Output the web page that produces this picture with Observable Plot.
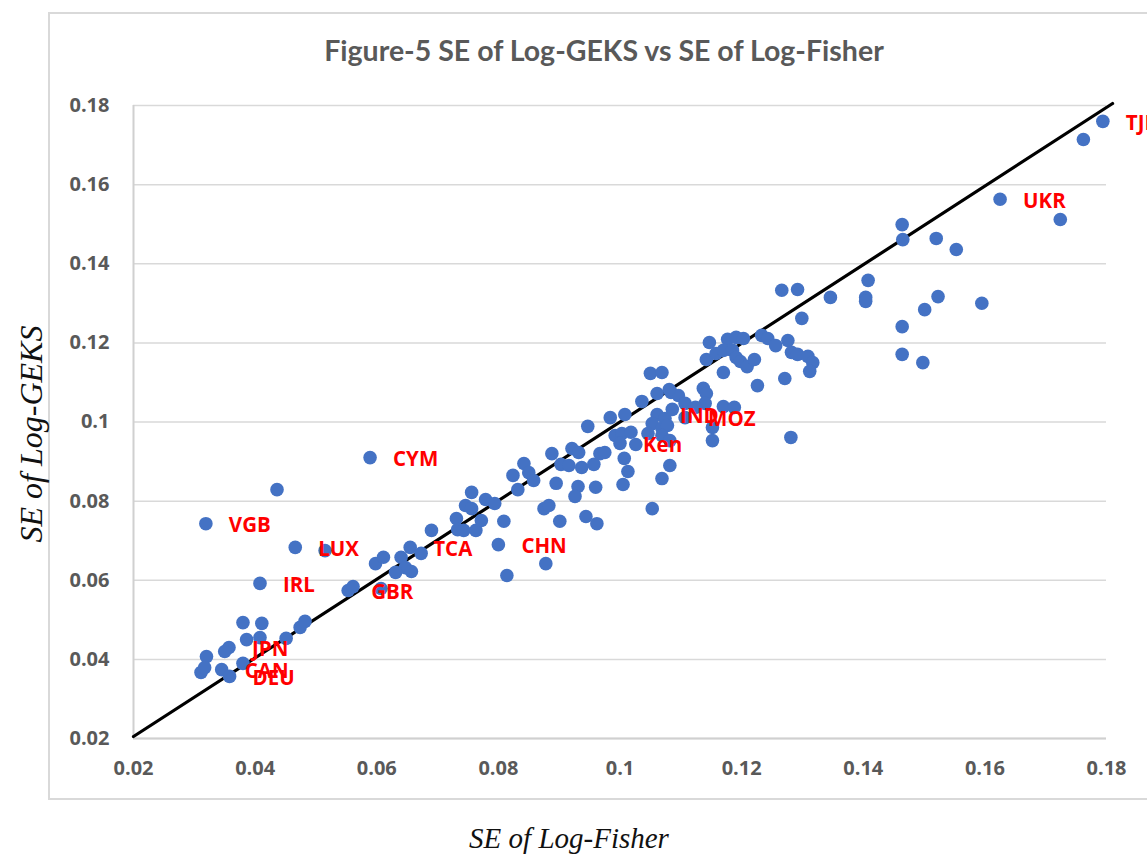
<!DOCTYPE html>
<html>
<head>
<meta charset="utf-8">
<script src="https://cdn.jsdelivr.net/npm/d3@7"></script>
<script src="https://cdn.jsdelivr.net/npm/@observablehq/plot@0.6"></script>
<style>
  html, body { margin: 0; padding: 0; background: #fff; }
  #wrap { position: relative; width: 1147px; height: 854px; overflow: hidden; }
  #frame { position: absolute; left: 48px; top: 12px; width: 1120px; height: 788px; border: 2px solid #d9d9d9; box-sizing: border-box; }
  #chart { position: absolute; left: 0; top: 0; }
  #title { position: absolute; left: 0; width: 1208px; top: 33px; text-align: center; font-family: Lato, "Open Sans", sans-serif; font-weight: bold; font-size: 28.5px; color: #595959; white-space: nowrap; }
  #ylab { position: absolute; left: 31px; top: 434px; transform: translate(-50%, -50%) rotate(-90deg); font-family: "Liberation Serif", serif; font-style: italic; font-size: 32px; color: #111; white-space: nowrap; }
  #xlab { position: absolute; left: 569px; top: 838px; transform: translate(-50%, -50%); font-family: "Liberation Serif", serif; font-style: italic; font-size: 29px; color: #111; white-space: nowrap; }
</style>
</head>
<body>
<div id="wrap">
  <div id="frame"></div>
  <div id="chart"></div>
  <div id="title"></div>
  <div id="ylab"></div>
  <div id="xlab"></div>
</div>
<script>
const titleText = "Figure-5 SE of Log-GEKS vs SE of Log-Fisher";
const xTitle = "SE of Log-Fisher";
const yTitle = "SE of Log-GEKS";

const xTicks = [0.02, 0.04, 0.06, 0.08, 0.1, 0.12, 0.14, 0.16, 0.18];
const yTicks = [0.02, 0.04, 0.06, 0.08, 0.1, 0.12, 0.14, 0.16, 0.18];

// SE of Log-Fisher (x) for every country
const seFisher = [
  0.0319,0.0436,0.0466,0.0515,0.0408,0.0380,0.0411,0.0386,0.0408,0.0451,0.0474,0.0482,0.0357,0.0350,0.0320,0.0311,0.0317,0.0345,0.0358,0.0380,
  0.0589,0.0553,0.0561,0.0607,0.0598,0.0611,0.0640,0.0647,0.0631,0.0657,0.0655,0.0673,0.0690,
  0.0731,0.0733,0.0743,0.0763,0.0772,0.0746,0.0756,0.0756,0.0779,0.0794,0.0809,0.0800,0.0814,0.0824,0.0842,0.0850,0.0858,0.0832,0.0875,0.0883,0.0878,0.0888,0.0901,
  0.0895,0.0903,0.0916,0.0921,0.0932,0.0937,0.0957,0.0960,0.0931,0.0926,0.0944,0.0962,0.0947,0.0967,0.0975,0.0984,0.1008,0.0992,0.1003,0.1000,0.1018,0.1026,0.1007,0.1013,0.1005,
  0.1036,0.1061,0.1084,0.1096,0.1061,0.1074,0.1086,0.1053,0.1046,0.1069,0.1078,0.1069,0.1082,0.1069,0.1053,0.1082,0.1050,0.1069,0.1081,0.1107,0.1137,0.1142,0.1140,0.1124,0.1107,0.1170,0.1188,0.1152,0.1152,0.1281,
  0.1147,0.1177,0.1191,0.1203,0.1233,0.1243,0.1256,0.1276,0.1142,0.1158,0.1170,0.1185,0.1191,0.1198,0.1209,0.1221,0.1282,0.1292,0.1309,0.1317,0.1312,0.1170,0.1271,0.1226,
  0.1266,0.1292,0.1299,0.1346,0.1408,0.1404,0.1404,
  0.1464,0.1465,0.1520,0.1553,0.1523,0.1501,0.1595,0.1464,0.1464,0.1498,0.1625,0.1724,0.1762,0.1794
];
// SE of Log-GEKS (y) for every country
const seGeks = [
  0.0743,0.0829,0.0683,0.0675,0.0592,0.0493,0.0491,0.0450,0.0455,0.0453,0.0481,0.0496,0.0430,0.0420,0.0407,0.0367,0.0379,0.0374,0.0357,0.0390,
  0.0910,0.0574,0.0584,0.0579,0.0642,0.0658,0.0658,0.0632,0.0620,0.0622,0.0683,0.0668,0.0726,
  0.0756,0.0728,0.0726,0.0726,0.0751,0.0789,0.0781,0.0822,0.0804,0.0794,0.0749,0.0690,0.0612,0.0865,0.0895,0.0872,0.0852,0.0829,0.0781,0.0789,0.0642,0.0920,0.0749,
  0.0845,0.0893,0.0890,0.0933,0.0923,0.0885,0.0893,0.0835,0.0837,0.0812,0.0761,0.0743,0.0989,0.0920,0.0923,0.1011,0.1019,0.0966,0.0971,0.0946,0.0974,0.0943,0.0908,0.0875,0.0842,
  0.1052,0.1072,0.1075,0.1067,0.1019,0.1009,0.1032,0.0996,0.0971,0.0984,0.0991,0.0966,0.0890,0.0857,0.0781,0.0953,0.1123,0.1125,0.1082,0.1047,0.1085,0.1072,0.1047,0.1037,0.1011,0.1039,0.1037,0.0986,0.0953,0.0961,
  0.1201,0.1209,0.1214,0.1211,0.1219,0.1211,0.1193,0.1206,0.1158,0.1173,0.1181,0.1181,0.1163,0.1153,0.1140,0.1158,0.1176,0.1171,0.1166,0.1150,0.1128,0.1125,0.1110,0.1092,
  0.1333,0.1335,0.1262,0.1315,0.1358,0.1315,0.1305,
  0.1499,0.1461,0.1464,0.1436,0.1317,0.1284,0.1300,0.1241,0.1171,0.1150,0.1563,0.1512,0.1714,0.1760
];

// Labelled countries
const labelCodes  = ["VGB","LUX","IRL","JPN","CAN","DEU","CYM","GBR","TCA","CHN","Ken","IND","MOZ","UKR","TJK"];
const labelFisher = [0.0319,0.0466,0.0408,0.0357,0.0345,0.0358,0.0589,0.0553,0.0655,0.0800,0.1000,0.1061,0.1107,0.1625,0.1794];
const labelGeks   = [0.0743,0.0683,0.0592,0.0430,0.0374,0.0357,0.0910,0.0574,0.0683,0.0690,0.0946,0.1019,0.1011,0.1563,0.1760];

// Fitted line endpoints
const fitFisher = [0.0200, 0.1810];
const fitGeks   = [0.0205, 0.1805];

const points = seFisher.map((x, i) => ({x, y: seGeks[i]}));
const labels = labelCodes.map((c, i) => ({c, x: labelFisher[i], y: labelGeks[i]}));
const fit = fitFisher.map((x, i) => ({x, y: fitGeks[i]}));
const fmt = d => String(+d.toFixed(2));

const plot = Plot.plot({
  width: 1147,
  height: 854,
  marginLeft: 133,
  marginRight: 41,
  marginTop: 105,
  marginBottom: 116,
  style: { fontFamily: "'Open Sans', sans-serif", fontSize: "20px", fontWeight: "bold", color: "#595959", background: "transparent", overflow: "hidden" },
  x: { domain: [0.02, 0.18] },
  y: { domain: [0.02, 0.18] },
  marks: [
    Plot.gridY(yTicks, { stroke: "#d9d9d9", strokeOpacity: 1, strokeWidth: 1.5 }),
    Plot.ruleX([0.02], { stroke: "#d0d0d0", strokeWidth: 2 }),
    Plot.ruleY([0.02], { stroke: "#d0d0d0", strokeWidth: 2 }),
    Plot.axisY(yTicks, { tickSize: 0, tickPadding: 24, tickFormat: fmt, label: null, fill: "#595959" }),
    Plot.axisX(xTicks, { tickSize: 0, tickPadding: 22, tickFormat: fmt, label: null, fill: "#595959" }),
    Plot.line(fit, { x: "x", y: "y", stroke: "#000", strokeWidth: 3.2 }),
    Plot.dot(points, { x: "x", y: "y", r: 6.8, fill: "#4472C4", stroke: "none" }),
    Plot.text(labels, { x: "x", y: "y", text: "c", dx: 23, dy: 2, textAnchor: "start", fill: "#FF0000", fontSize: 20.5, fontWeight: "bold", fontFamily: "'Open Sans', sans-serif" })
  ]
});
document.getElementById("chart").appendChild(plot);
document.getElementById("title").textContent = titleText;
document.getElementById("xlab").textContent = xTitle;
document.getElementById("ylab").textContent = yTitle;
</script>
</body>
</html>
